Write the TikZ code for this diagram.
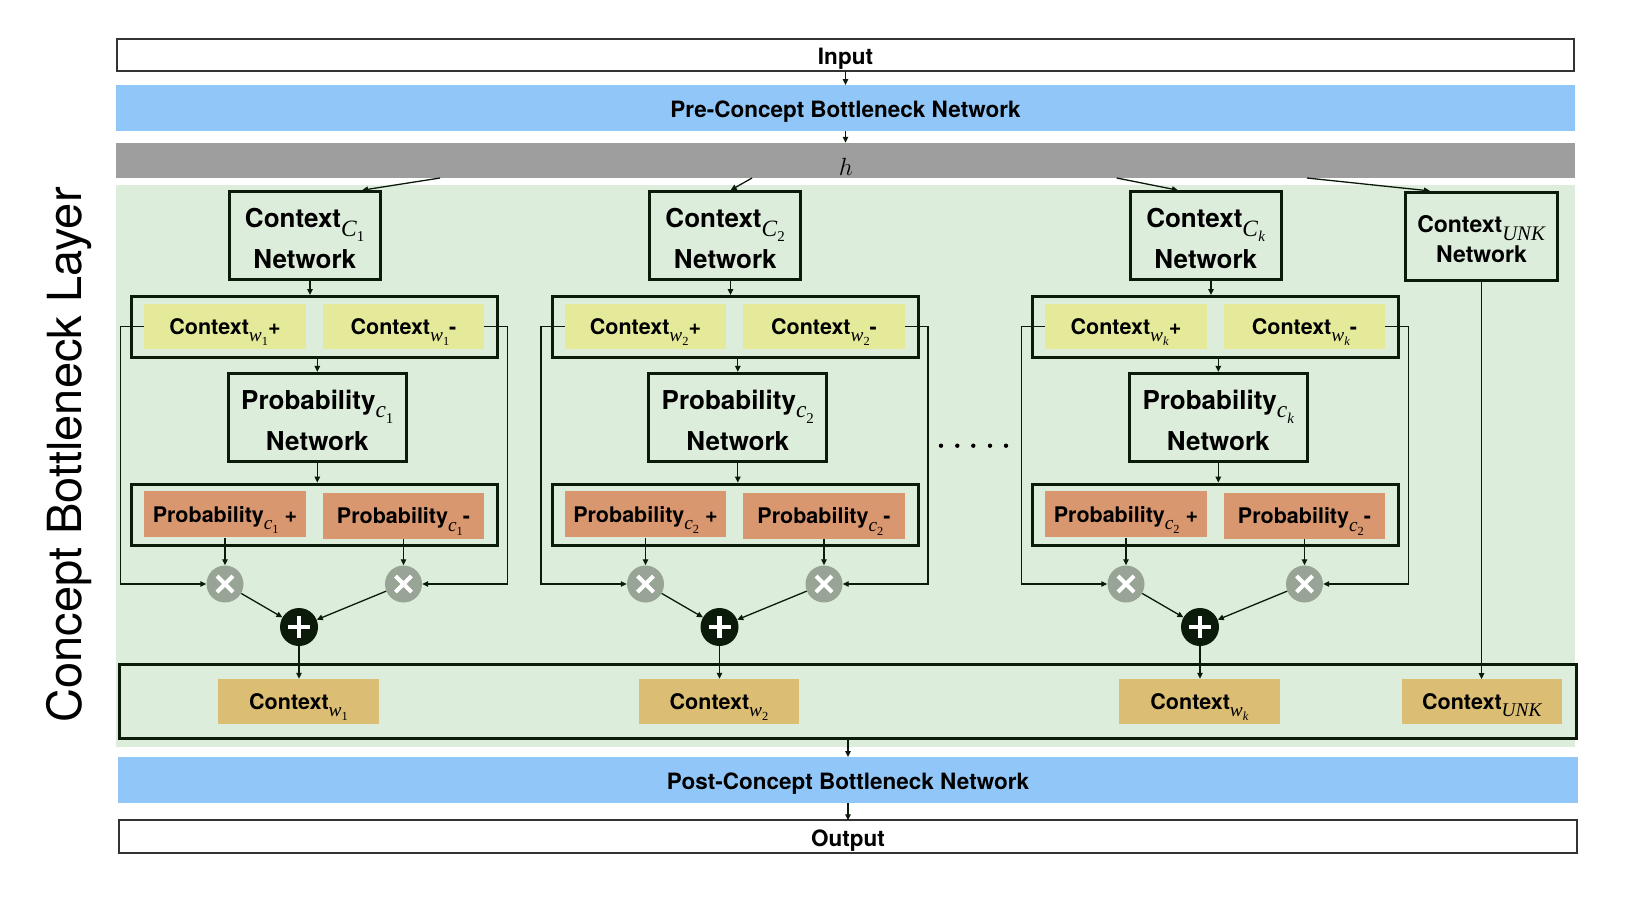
\documentclass[tikz,border=0pt]{standalone}
\usepackage{fontspec}
\setmainfont{TeX Gyre Heros}
\newfontfamily\tms{Liberation Serif}
\usetikzlibrary{arrows.meta,calc}
\definecolor{cblue}{HTML}{91C7F8}
\definecolor{cgray}{HTML}{9E9E9E}
\definecolor{cgreen}{HTML}{DDEDDB}
\definecolor{cyel}{HTML}{E5EA9B}
\definecolor{corange}{HTML}{D9976F}
\definecolor{ctan}{HTML}{DBBE73}
\definecolor{cmul}{HTML}{98A496}
\definecolor{cline}{HTML}{0B1A0B}
\definecolor{cdk}{HTML}{333333}
\makeatletter
\newcommand\sbs[1]{\raisebox{-0.34em}{\@tempdima=0.9\dimexpr\f@size pt\relax\fontsize{\strip@pt\@tempdima}{\strip@pt\@tempdima}\selectfont\tms\mdseries #1}}
\newcommand\sbss[1]{\raisebox{-0.22em}{\@tempdima=0.64\dimexpr\f@size pt\relax\fontsize{\strip@pt\@tempdima}{\strip@pt\@tempdima}\selectfont\upshape #1}}
\makeatother
\newcommand\kk{\textit{k}}
\newcommand\tstrut{\rule{0pt}{25pt}}
\begin{document}
\begin{tikzpicture}[x=1pt,y=-1pt,
  bar/.style={minimum width=1459, minimum height=46, inner sep=0, outer sep=0, text=black,
    font=\bfseries\fontsize{22.5}{22.5}\selectfont, text height=19.2pt, text depth=0pt},
  inbox/.style={bar, draw=cdk, line width=1.8pt, minimum width=1457, minimum height=32.5},
  net/.style={draw=cline, line width=3.2pt, minimum width=151, minimum height=88, inner sep=0,
    align=center, text=black, font=\bfseries\fontsize{26}{41.5}\selectfont},
  grp/.style={draw=cline, line width=3pt, minimum width=366, minimum height=61, inner sep=0},
  cell/.style={minimum width=161.4, minimum height=45, inner sep=0, text=black,
    font=\bfseries\fontsize{21.5}{21.5}\selectfont, text height=15.5pt, text depth=0pt},
  ybox/.style={cell, fill=cyel},
  obox/.style={cell, fill=corange, minimum height=46},
  tbox/.style={cell, fill=ctan, minimum width=160.4},
  mul/.style={circle, fill=cmul, minimum size=37, inner sep=0},
  add/.style={circle, fill=cline, minimum size=38, inner sep=0},
  bigbox/.style={draw=cline, line width=3pt, minimum width=1457, minimum height=74, inner sep=0},
  arr/.style={draw=cline, line width=1.3pt, -{Triangle[length=6pt,width=5.5pt]}}
]
\fill[white] (0,0) rectangle (1634,898);
\useasboundingbox (0,0) rectangle (1634,898);
\fill[cgreen] (116,185) rectangle (1575,747);

% title
\node[rotate=90, anchor=base, inner sep=0, font=\fontsize{47}{47}\selectfont] (title) at (81.7,455) {Concept Bottleneck Layer};

% top bars
\node[inbox] (input) at (845.5,55) {Input};
\node[bar, fill=cblue] (pre) at (845.5,108) {Pre-Concept Bottleneck Network};
\node[bar, fill=cgray, minimum height=35.5] (hbar) at (845.5,160.5) {};
\node[anchor=base, inner sep=0, font=\fontsize{24}{24}\selectfont] (hlab) at (846,175) {$h$};
\draw[arr] (input.south) -- (pre.north);
\draw[arr] (pre.south) -- (hbar.north);

% bottom box
\node[bigbox] (big) at (848,701.5) {};

% groups
\foreach \g/\dx/\n/\m in {1/0/1/1, 2/420.5/2/2, k/901/\kk/2} {
  \node[net] (net\g) at (304.7+\dx,235.8) {\tstrut Context\sbs{\textit{C}\sbss{\n}}\\Network};
  \node[grp] (cp\g) at (314.5+\dx,327) {};
  \node[ybox] (yp\g) at (225+\dx,326.5) {Context\sbs{\textit{w}\sbss{\n}}+};
  \node[ybox] (ym\g) at (403.5+\dx,326.5) {Context\sbs{\textit{w}\sbss{\n}}-};
  \node[net, minimum width=178] (pn\g) at (317.3+\dx,417.5) {\tstrut Probability\sbs{\textit{c}\sbss{\n}}\\Network};
  \node[grp] (pp\g) at (314.5+\dx,514.5) {};
  \node[obox] (op\g) at (225+\dx,514.3) {Probability\sbs{\textit{c}\sbss{\m}} +};
  \node[obox] (om\g) at (403.5+\dx,516) {Probability\sbs{\textit{c}\sbss{\m}}-};
  \node[mul] (xp\g) at (225+\dx,584) {};
  \node[mul] (xm\g) at (403.5+\dx,584) {};
  \node[add] (ad\g) at (299+\dx,627) {};
  \node[tbox] (tw\g) at (298.5+\dx,701.5) {Context\sbs{\textit{w}\sbss{\n}}};
  \draw[white, line width=4pt] ($(xp\g)+(-8,-8)$) -- ($(xp\g)+(8,8)$) ($(xp\g)+(-8,8)$) -- ($(xp\g)+(8,-8)$);
  \draw[white, line width=4pt] ($(xm\g)+(-8,-8)$) -- ($(xm\g)+(8,8)$) ($(xm\g)+(-8,8)$) -- ($(xm\g)+(8,-8)$);
  \draw[white, line width=4.5pt] ($(ad\g)+(-11,0)$) -- ($(ad\g)+(11,0)$) ($(ad\g)+(0,-11)$) -- ($(ad\g)+(0,11)$);
  \draw[arr] ([xshift=5.3pt]net\g.south) -- ([xshift=5.3pt]net\g.south |- cp\g.north);
  \draw[arr] (pn\g.north |- cp\g.south) -- (pn\g.north);
  \draw[arr] (pn\g.south) -- (pn\g.south |- pp\g.north);
  \draw[arr] (op\g.south) -- (xp\g.north);
  \draw[arr] (om\g.south) -- (xm\g.north);
  \draw[arr] (yp\g.west) -- ([xshift=-23.6pt]yp\g.west) |- (xp\g.west);
  \draw[arr] (ym\g.east) -- ([xshift=23pt]ym\g.east) |- (xm\g.east);
  \draw[arr] (xp\g) -- (ad\g);
  \draw[arr] (xm\g) -- (ad\g);
  \draw[arr] (ad\g.south) -- (ad\g.south |- tw\g.north);
}

% unknown branch
\node[net, minimum width=152, font=\bfseries\fontsize{23}{30}\selectfont] (unet) at (1481.5,236.5) {\rule{0pt}{22pt}Context\sbs{\textit{UNK}}\\Network};
\node[tbox] (tunk) at (1482.2,701.8) {Context\sbs{\textit{UNK}}};
\draw[arr] (unet.south) -- (unet.south |- tunk.north);

% arrows from h
\coordinate (h1) at (440,178);
\coordinate (h2) at (752,178);
\coordinate (hk) at (1116.7,178);
\coordinate (hu) at (1307,178);
\draw[arr] (h1) -- ($(net1.north west)!0.872!(net1.north east)$);
\draw[arr] (h2) -- ($(net2.north west)!0.535!(net2.north east)$);
\draw[arr] (hk) -- ($(netk.north west)!0.32!(netk.north east)$);
\draw[arr] (hu) -- ($(unet.north west)!0.168!(unet.north east)$);

% dots
\foreach \xx in {941,957.3,973.3,990,1006} \fill[black] (\xx,445.7) circle (2.2pt);

% bottom bars
\node[bar, fill=cblue, minimum width=1460] (post) at (848,780) {Post-Concept Bottleneck Network};
\node[inbox, minimum width=1458] (output) at (848,836.5) {Output};
\draw[arr] (big.south) -- (post.north);
\draw[arr] (post.south) -- (output.north);
\end{tikzpicture}
\end{document}
